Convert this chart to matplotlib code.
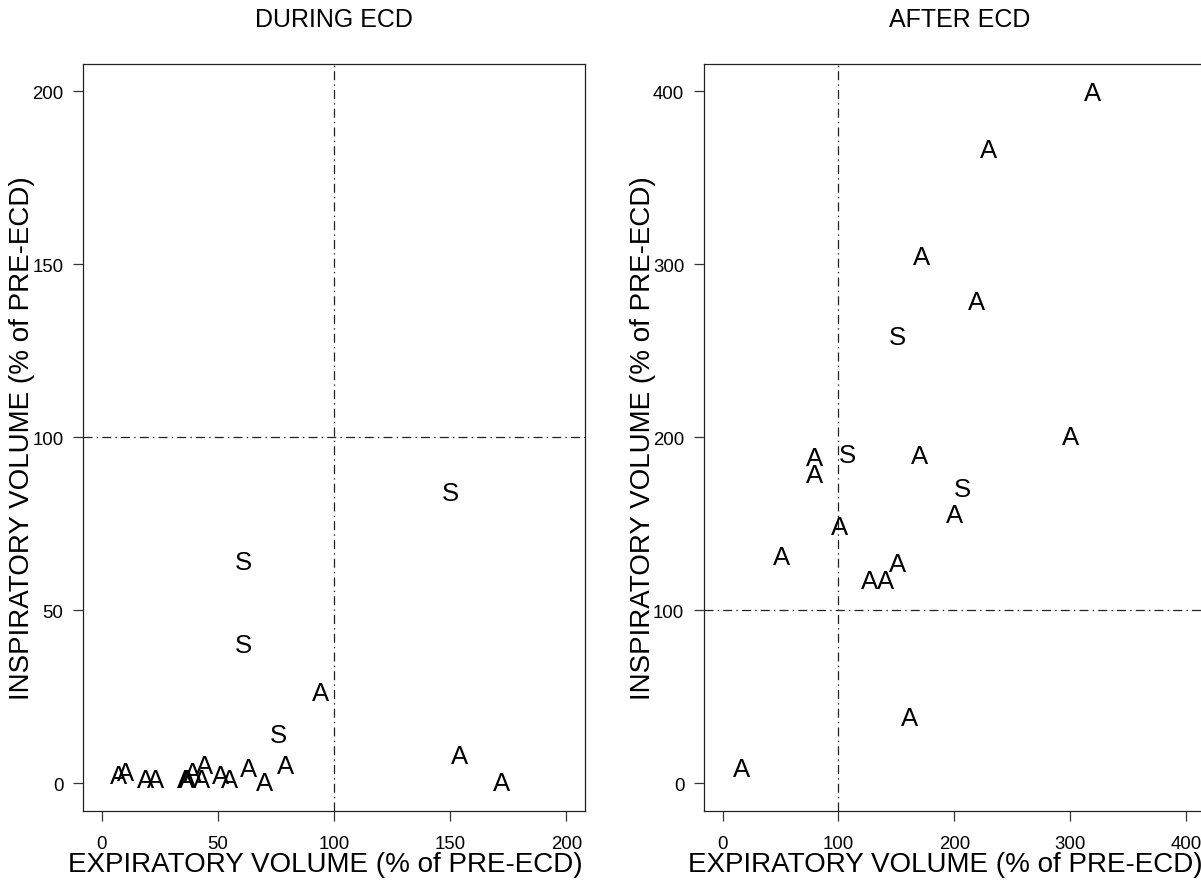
import matplotlib
matplotlib.use('Agg')
import matplotlib.pyplot as plt

plt.rcParams['font.family'] = ['Liberation Sans', 'DejaVu Sans']
plt.rcParams['lines.scale_dashes'] = False

#%%
'''values read off the reference (A and S groups)'''
during_a_x = [7, 10, 19, 23, 36, 37, 39, 43, 44, 51, 55, 63, 70, 79, 94, 154, 172]
during_a_y = [2, 3, 1, 1, 1, 1, 3, 1, 5, 2, 1, 4, 0, 5, 26, 8, 0]
during_s_x = [61, 61, 150, 76]
during_s_y = [64, 40, 84, 14]

after_a_x = [319, 229, 172, 219, 300, 79, 79, 170, 200, 101, 51, 127, 141, 151, 161, 16]
after_a_y = [399, 366, 304, 278, 200, 188, 178, 189, 155, 148, 131, 117, 117, 127, 38, 8]
after_s_x = [151, 108, 207]
after_s_y = [258, 190, 170]

during_ticks = [0, 50, 100, 150, 200]
after_ticks = [0, 100, 200, 300, 400]

xlab = 'EXPIRATORY VOLUME (% of PRE-ECD)'
ylab = 'INSPIRATORY VOLUME (% of PRE-ECD)'

W, H = 1201, 887
fig = plt.figure(figsize=(W/100, H/100), dpi=100)

ax1 = fig.add_axes([83.3/W, 75/H, (585-83.3)/W, (812-64.7)/H])
ax2 = fig.add_axes([704/W, 75/H, (1204.8-704)/W, (812-64.7)/H])

dd = (0, (6.5, 3, 1, 3))

def panel(ax, ax_x, ax_y, as_x, as_y, ticks, lim):
    ax.set_xlim(-0.04*lim, 1.04*lim)
    ax.set_ylim(-0.04*lim, 1.04*lim)
    for x, y in zip(ax_x, ax_y):
        ax.text(x, y, 'A', ha='center', va='center', fontsize=18.5)
    for x, y in zip(as_x, as_y):
        ax.text(x, y, 'S', ha='center', va='center', fontsize=18.5)
    ax.axvline(100, color='#222222', lw=0.9, linestyle=dd)
    ax.axhline(100, color='#222222', lw=0.9, linestyle=dd)
    ax.set_xticks(ticks)
    ax.set_yticks(ticks)
    ax.tick_params(length=7.2, width=0.9, labelsize=13.4, color='#333333')
    ax.tick_params(axis='x', pad=10)
    ax.tick_params(axis='y', pad=7)
    for s in ax.spines.values():
        s.set_linewidth(0.9)
        s.set_color('#222222')

panel(ax1, during_a_x, during_a_y, during_s_x, during_s_y, during_ticks, 200)
panel(ax2, after_a_x, after_a_y, after_s_x, after_s_y, after_ticks, 400)

# titles and axis labels as figure text
fig.text(334/W, 1 - 20/H, 'DURING ECD', ha='center', va='center', fontsize=18)
fig.text(960/W, 1 - 20/H, 'AFTER ECD', ha='center', va='center', fontsize=18)
fig.text(325/W, 1 - 865/H, xlab, ha='center', va='center', fontsize=20)
fig.text(945/W, 1 - 865/H, xlab, ha='center', va='center', fontsize=20)
fig.text(22/W, 1 - 438/H, ylab, ha='center', va='center', rotation=90, fontsize=20)
fig.text(643/W, 1 - 438/H, ylab, ha='center', va='center', rotation=90, fontsize=20)

fig.savefig('out.png', dpi=100)
